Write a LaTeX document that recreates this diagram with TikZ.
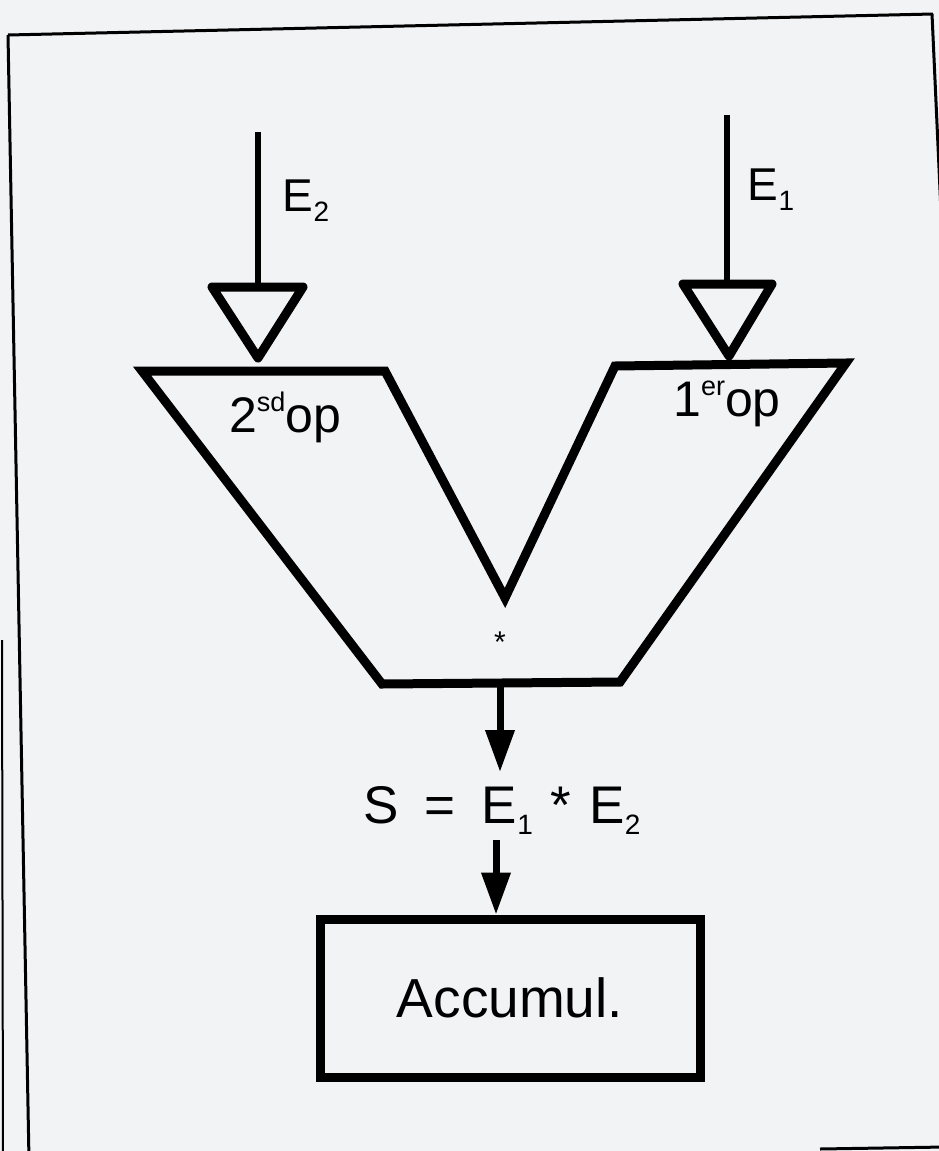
\documentclass[tikz,border=0pt]{standalone}
\usepackage{fontspec}
\setmainfont{Liberation Sans}
\usetikzlibrary{arrows.meta}
\definecolor{paper}{RGB}{242,243,245}
\newcommand{\sbs}[1]{\raisebox{-0.22em}{\fontsize{28}{28}\selectfont #1}}
\newcommand{\sps}[1]{\raisebox{0.42em}{\fontsize{27}{27}\selectfont #1}}
\begin{document}
\begin{tikzpicture}[x=1pt,y=-1pt,
  heavy/.style={line width=9pt,line join=miter},
  inline/.style={line width=6pt},
  frameline/.style={line width=3pt},
  lbl/.style={font=\fontsize{46}{52}\selectfont,anchor=base,inner sep=0pt},
  oplbl/.style={font=\fontsize{50}{56}\selectfont,anchor=base,inner sep=0pt},
  flow/.style={line width=7pt,-{Triangle[width=28pt,length=42pt]}},
  accbox/.style={draw,line width=9pt,minimum width=380pt,minimum height=158pt,font=\fontsize{55}{60}\selectfont}]
\useasboundingbox (0,0) rectangle (939,1151);
\fill[paper] (0,0) rectangle (939,1151);
% frame
\begin{scope}
\clip (0,0) rectangle (939,1151);
\draw[frameline] (8,35) -- (933,14);
\draw[frameline] (8,35) -- (29,1160);
\draw[frameline] (932,14) -- (945,300);
\draw[line width=2pt] (2,640) -- (3,1160);
\draw[frameline] (820,1149) -- (945,1147);
\end{scope}
% inputs
\coordinate (e2top) at (258,132);
\coordinate (e2tri) at (258,287);
\coordinate (e1top) at (727,115);
\coordinate (e1tri) at (727,284);
\draw[inline] (e2top) -- (e2tri);
\draw[inline] (e1top) -- (e1tri);
\draw[line width=9pt,line join=round] (212,287) -- (303,287) -- (258,358) -- cycle;
\draw[line width=9pt,line join=round] (683,284) -- (772,284) -- (729,356) -- cycle;
\node[lbl] (E2) at (306,211) {E\sbs{2}};
\node[lbl] (E1) at (771,200) {E\sbs{1}};
% multiplier
\draw[heavy] (142,371) -- (385,371) -- (505,598) -- (615,366) -- (846,363)
  -- (620,682) -- (382,684) -- cycle;
\node[oplbl] (op2) at (285,432) {2\sps{sd}op};
\node[oplbl] (op1) at (727,416) {1\sps{er}op};
\node[font=\fontsize{30}{30}\selectfont] (star) at (500,642) {*};
\coordinate (mulout) at (500,684);
% output
\node[oplbl,font=\fontsize{53}{58}\selectfont] (S) at (502,823)
  {S\hspace{26pt}=\hspace{26pt}E\sbs{1}\hspace{18pt}*\hspace{18pt}E\sbs{2}};
\coordinate (Sin) at (500,772);
\coordinate (Sout) at (496,840);
\node[accbox] (acc) at (510,998) {Accumul.};
\draw[flow] (mulout) -- (Sin);
\draw[flow] (Sout) -- (acc.north -| Sout);
\end{tikzpicture}
\end{document}
